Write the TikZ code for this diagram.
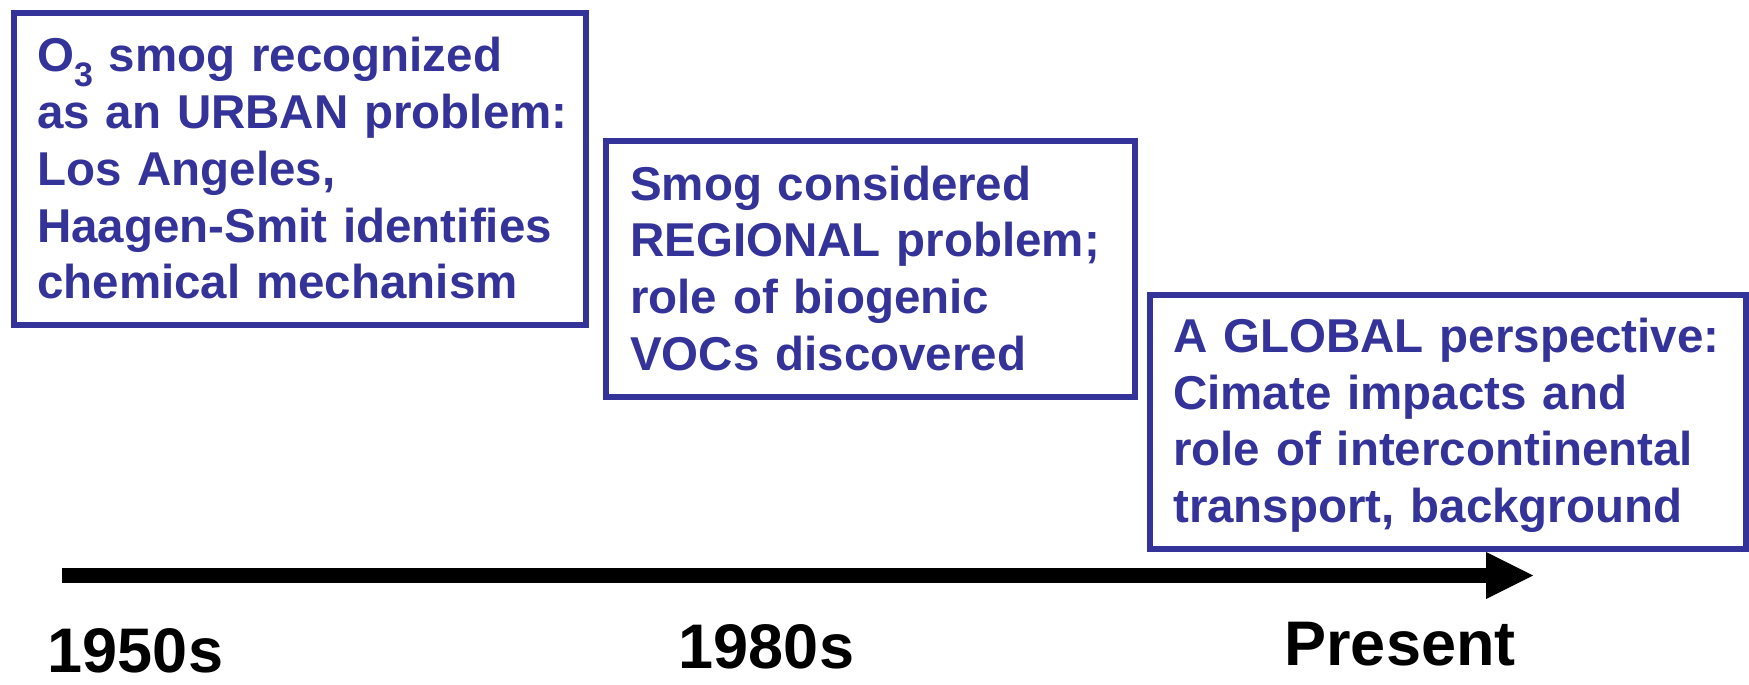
\documentclass[tikz,border=0pt]{standalone}
\usepackage{fontspec}
\setmainfont{Liberation Sans}
\usetikzlibrary{arrows.meta}
\definecolor{boxblue}{RGB}{51,51,153}
\tikzset{
  tbox/.style={draw=boxblue, line width=6pt, fill=none},
  btext/.style={anchor=base west, inner sep=0pt, text width=560pt, align=left,
     text=boxblue, font=\fontsize{47.5}{56.7}\selectfont\bfseries},
  era/.style={anchor=base, inner sep=0pt, text=black, font=\fontsize{63}{63}\selectfont\bfseries},
  timeline/.style={line width=15pt, black, -{Triangle[length=47pt,width=47pt,line width=0pt]}}
}
\begin{document}
\begin{tikzpicture}[x=1pt,y=-1pt]
\useasboundingbox (0,0) rectangle (1749,685);
% boxes
\draw[tbox] (14,13) rectangle (586,325);
\draw[tbox] (606,141) rectangle (1135,397);
\draw[tbox] (1150,294.5) rectangle (1745.5,548.5);
% texts
\node[btext] (t1) at (37,72) {O\raisebox{-14pt}{\fontsize{34}{34}\selectfont 3} smog recognized\\as an URBAN problem:\\Los Angeles,\\Haagen-Smit identifies\\chemical mechanism};
\node[btext] (t2) at (630,200) {Smog considered\\REGIONAL problem;\\role of biogenic\\VOCs discovered};
\node[btext] (t3) at (1173,352.5) {A GLOBAL perspective:\\Cimate impacts and\\role of intercontinental\\transport, background};
% timeline
\coordinate (tl) at (62,575.5);
\coordinate (tr) at (1533,575.5);
\draw[timeline] (tl) -- (tr);
\node[era] (e1) at (135.5,672) {1950s};
\node[era] (e2) at (766.5,668) {1980s};
\node[era] (e3) at (1400,665) {Present};
\end{tikzpicture}
\end{document}
